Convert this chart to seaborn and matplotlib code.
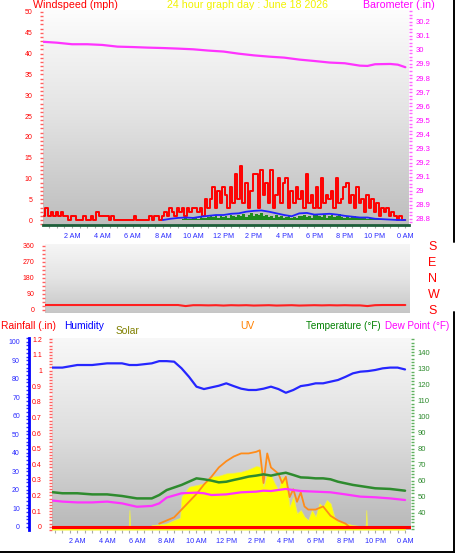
import numpy as np
import seaborn as sns
import matplotlib
matplotlib.use("Agg")
import matplotlib.pyplot as plt
from matplotlib.colors import LinearSegmentedColormap
from matplotlib.lines import Line2D
from matplotlib.ticker import MultipleLocator, FixedLocator, FuncFormatter

sns.set_style("white")
plt.rcParams['font.family'] = ['Liberation Sans', 'DejaVu Sans']

W, H = 455, 554

# ---- wind (10 minute samples) ----
gust_t = np.arange(1, 145) / 6
gust = [1, 3, 1, 2, 1, 2,   1, 2, 1, 1, 0, 1,   1, 0, 0, 0, 1, 0,   0, 1, 0, 2, 1, 1,
        1, 1, 0, 1, 0, 0,   0, 0, 0, 0, 0, 0,   1, 0, 0, 0, 0, 0,   1, 0, 1, 1, 0, 1,
        2, 1, 3, 2, 1, 3,   2, 3, 1, 3, 2, 3,   3, 2, 3, 1, 5, 3,   5, 8, 3, 7, 4, 8,
        6, 3, 8, 4, 11, 5,  13, 4, 9, 3, 7, 11, 11, 3, 12, 6, 9, 4, 12, 3, 6, 10, 4, 9,
        10, 3, 7, 4, 8, 5,  7, 3, 11, 4, 6, 3,  8, 3, 10, 4, 6, 5,  7, 3, 10, 4, 5, 8,
        9, 4, 6, 3, 8, 4,   5, 2, 6, 3, 5, 2,   4, 1, 3, 2, 3, 1,   2, 1, 0, 1, 0, 0]
wind_lull = [0] * 54 + [0, 0.3, 0.5, 0.3, 0.3, 0.5,
             0.5, 0.3, 0.8, 0.5, 0.4, 0.8,  1, 0.8, 1.2, 0.5, 1, 0.8,  1, 0.5, 1.2, 1, 0.8, 1.2,
             1, 1.5, 0.8, 1.2, 1.6, 1,  1.5, 1.2, 1.6, 1, 1.2, 0.8,  1, 0.5, 1.2, 0.8, 1, 0.5,
             0.8, 1, 0.5, 0.8, 0.4, 1,  1, 1.2, 0.8, 1, 0.5, 1.2,  1.5, 1, 0.8, 1.2, 0.5, 1,
             1.2, 0.8, 1, 1.5, 0.8, 0.5,  1, 0.5, 0.8, 1, 0.4, 0.5,  0.5, 0.8, 0.3, 0.5, 0.3, 0.3,
             0.2, 0.3, 0, 0, 0, 0,  0, 0, 0, 0, 0, 0]

wind_t = [8, 8.5, 9, 9.5, 10, 10.5, 11, 11.5, 12, 12.5, 13, 13.5, 14, 14.5, 15, 15.5, 16,
          16.5, 17, 17.5, 18, 18.5, 19, 19.5, 20, 20.5, 21, 21.5, 22, 22.5, 23, 23.5, 24]
wind_avg = [0, 0.3, 0.5, 0.6, 0.5, 0.8, 1.0, 1.2, 1.2, 1.5, 1.6, 2.0, 2.2, 2.3, 2.0, 1.6, 1.2,
            0.9, 1.6, 1.7, 1.3, 1.4, 1.5, 1.3, 1.0, 0.8, 0.6, 0.6, 0.3, 0.2, 0.1, 0, 0]

baro_t = [0, 1, 2, 3, 4, 5, 6, 7, 8, 9, 10, 11, 12, 13, 14, 15, 16, 17, 18, 19, 20, 21,
          21.5, 22, 23, 23.5, 24]
baro = [30.058, 30.051, 30.04, 30.04, 30.035, 30.023, 30.02, 30.016, 30.013, 30.009,
        30.004, 29.995, 29.988, 29.973, 29.961, 29.952, 29.945, 29.931, 29.921, 29.91,
        29.905, 29.888, 29.886, 29.898, 29.9, 29.895, 29.877]

wdir_t = np.arange(0, 24.5, 0.5)
wdir = [28] * 19 + [22, 27, 27, 26, 27, 25, 27, 26, 27, 25, 26, 27, 25, 26, 27, 25, 26,
                    27, 26, 27, 26, 27, 26, 26, 22, 27, 28, 28, 28, 28]

# ---- lower panel ----
hum_t = [0, 1, 2, 3, 4, 5, 5.5, 6, 7, 7.5, 8, 8.5, 9, 9.5, 10, 10.5, 11, 11.5, 12, 12.5,
         13, 13.5, 14, 14.5, 15, 15.5, 16, 16.5, 17, 17.5, 18, 18.5, 19, 19.5, 20, 20.5,
         21, 21.5, 22, 22.5, 23, 23.5, 24]
hum = [86, 86, 87.4, 87.4, 88.3, 88.3, 87.4, 87.4, 88.3, 89.5, 89.5, 89.2, 85.6, 81, 75.7,
       74.4, 75.3, 76.2, 77.5, 76, 74.6, 73.9, 73.9, 74.6, 75.7, 74.4, 72.4, 73.9, 76, 76.6,
       77.5, 77.5, 78.4, 79.3, 81, 82.9, 83.8, 84.1, 84.7, 85.6, 86, 86, 85]

temp_t = [0, 1, 2, 3, 4, 5, 6, 7, 7.5, 8, 9, 10, 10.5, 11, 11.5, 12, 12.5, 13, 13.5, 14,
          14.5, 15, 15.5, 16, 16.5, 17, 17.5, 18, 18.5, 19, 19.5, 20, 20.5, 21, 22, 23, 24]
temp = [53.1, 52.1, 52.1, 51.4, 51.4, 50.4, 48.9, 48.9, 51, 54.1, 57.3, 61.4, 60.8, 60,
        58.9, 59.3, 60.4, 61.4, 62.5, 63.1, 63.9, 63.1, 64.1, 64.9, 63.5, 62, 61.8, 61.4,
        61.4, 60.8, 59.3, 58.3, 57.3, 56.6, 55.2, 54.8, 53.7]

dew_t = [0, 1, 2, 3, 4, 5, 6, 7, 7.5, 8, 9, 10, 10.5, 11, 12, 13, 14, 14.5, 15, 16, 16.5,
         17, 18, 19, 20, 21, 22, 23, 24]
dew = [47.9, 46.9, 46.4, 46.4, 46.9, 45.8, 43.7, 44.2, 45.8, 49.4, 52.1, 52.5, 52.1, 51,
       51.4, 52.7, 53.1, 53.7, 53.5, 54.8, 54.1, 53.5, 53.1, 52.7, 51.4, 50, 49.6, 48.9, 47.9]

uv_t = [7.5, 8, 8.5, 9, 9.5, 10, 10.5, 11, 11.5, 12, 12.5, 13, 13.5, 14, 14.25, 14.5, 14.75,
        15, 15.25, 15.5, 15.75, 16, 16.25, 16.5, 16.75, 17, 17.25, 17.5, 18, 18.5, 19, 19.5,
        20, 20.25]
uv = [0.2, 0.4, 0.6, 1.1, 1.6, 2.1, 2.7, 3.2, 3.8, 4.2, 4.5, 4.7, 4.7, 4.8, 4.9, 2.8, 4.7,
      3.8, 3.6, 3.4, 2.8, 3.2, 1.9, 2.4, 1.6, 2.2, 1.3, 1.1, 1.1, 1.3, 0.7, 0.4, 0.2, 0]

sol_t = [0, 5.45, 5.5, 5.55, 6.9, 7, 7.5, 8, 8.5, 8.9, 9, 9.25, 9.5, 10, 10.5, 11, 11.5, 12,
         12.5, 13, 13.5, 14, 14.25, 14.5, 14.75, 15, 15.25, 15.5, 15.75, 16, 16.25, 16.5,
         16.75, 17, 17.25, 17.5, 17.75, 18, 18.25, 18.5, 18.75, 19, 19.25, 19.5, 20, 20.5,
         21, 21.35, 21.4, 21.45, 21.5, 24]
sol = [0, 0, 225, 0, 0, 22, 31, 45, 90, 120, 405, 472, 540, 562, 585, 675, 688, 720, 729,
       742, 774, 819, 810, 540, 720, 697, 585, 495, 675, 630, 270, 405, 180, 225, 135, 90,
       225, 135, 315, 270, 360, 315, 135, 67, 45, 22, 9, 0, 225, 0, 0, 0]

rain_t = [0, 24.5]
rain = [0, 0]


def box(l, t, r, b):
    return [l / W, 1 - b / H, (r - l) / W, (b - t) / H]


def shade(ax, top, mid, bottom):
    cmap = LinearSegmentedColormap.from_list('bg', [top, mid, bottom])
    grad = np.linspace(0, 1, 256).reshape(-1, 1)
    ax.imshow(grad, cmap=cmap, aspect='auto', extent=[0, 1, 0, 1],
              transform=ax.transAxes, zorder=0)


def hide(ax):
    for s in ax.spines.values():
        s.set_visible(False)


def clock(h, pos=None):
    hh = int(round(h)) % 24
    n = hh % 12
    if hh == 12:
        n = 12
    return f"{n} {'AM' if hh < 12 else 'PM'}"


def time_axis(ax, pad):
    ax.xaxis.set_major_locator(MultipleLocator(2))
    ax.xaxis.set_minor_locator(MultipleLocator(0.5))
    ax.xaxis.set_major_formatter(FuncFormatter(clock))
    ax.tick_params(axis='x', which='both', bottom=True, length=2.5, width=0.8,
                   color='#a8a8a8', labelsize=5.2, labelcolor='#2a2aff', pad=pad)


def ftext(x, y, s, color, size=7.7, **kw):
    fig.text(x / W, 1 - y / H, s, color=color, fontsize=size, va='center', **kw)


fig = plt.figure(figsize=(W / 100, H / 100), dpi=100)

# ---------- panel 1: wind speed / barometer ----------
ax1 = fig.add_axes(box(43, 10, 409, 225))
shade(ax1, '#fdfdfd', '#e2e2e2', '#bdbdbd')
ax1.fill_between(gust_t, 0, wind_lull, step='mid', color='#1e8c1e', lw=0, zorder=2)
sns.lineplot(x=gust_t, y=gust, ax=ax1, color='#ff0000', lw=1.4, drawstyle='steps-mid', zorder=3)
sns.lineplot(x=wind_t, y=wind_avg, ax=ax1, color='#2222ff', lw=1.3, zorder=4)
ax1.set_xlim(0.086, 24.24)
ax1.set_ylim(-1.2, 50.48)
ax1.yaxis.set_major_locator(MultipleLocator(5))
ax1.yaxis.set_minor_locator(MultipleLocator(1))
ax1.tick_params(axis='y', which='both', left=True, length=2.5, width=1, color='#ff6060',
                labelcolor='#ff0000', labelsize=5, pad=5)
time_axis(ax1, 3)
hide(ax1)
ax1.spines['bottom'].set_visible(True)
ax1.spines['bottom'].set_color('#1d5e3a')
ax1.spines['bottom'].set_linewidth(2)

ax1b = ax1.twinx()
sns.lineplot(x=baro_t, y=baro, ax=ax1b, color='#ff33ff', lw=1.6)
ax1b.set_ylim(28.757, 30.283)
ax1b.yaxis.set_major_locator(MultipleLocator(0.1))
ax1b.yaxis.set_minor_locator(MultipleLocator(0.025))
ax1b.yaxis.set_major_formatter(FuncFormatter(lambda v, p: f"{v:g}"))
ax1b.tick_params(axis='y', which='both', right=True, length=2.5, width=1, color='#ff66ff',
                 labelcolor='#ff00ff', labelsize=5.5, pad=2)
hide(ax1b)

# ---------- panel 2: wind direction ----------
ax2 = fig.add_axes(box(45, 244, 410, 313))
shade(ax2, '#f6f6f6', '#e4e4e4', '#c6c6c6')
sns.lineplot(x=wdir_t, y=wdir, ax=ax2, color='#ff2020', lw=1.5)
ax2.set_xlim(0.218, 24.31)
ax2.set_ylim(-16.9, 371)
ax2.yaxis.set_major_locator(FixedLocator([0, 90, 180, 270, 360]))
ax2.yaxis.set_minor_locator(MultipleLocator(22.5))
ax2.tick_params(axis='y', which='both', left=True, length=2.5, width=1, color='#ff6060',
                labelcolor='#ff0000', labelsize=5, pad=5)
ax2.tick_params(axis='x', which='both', bottom=False, labelbottom=False)
hide(ax2)

ax2b = ax2.twinx()
ax2b.set_ylim(-16.9, 371)
ax2b.set_yticks([0, 90, 180, 270, 360], ['S', 'W', 'N', 'E', 'S'])
ax2b.tick_params(axis='y', right=True, length=0, labelcolor='#ff0000', labelsize=9, pad=13)
hide(ax2b)

# ---------- panel 3: rain / humidity / solar / uv / temperature ----------
ax3 = fig.add_axes(box(52, 338, 411, 530))
shade(ax3, '#f8f8f8', '#dedede', '#b8b8b8')
ax3.set_xlim(0.302, 24.4)
ax3.set_ylim(-0.0211, 1.2088)
ax3.yaxis.set_major_locator(MultipleLocator(0.1))
ax3.yaxis.set_minor_locator(MultipleLocator(0.02))
ax3.yaxis.set_major_formatter(FuncFormatter(lambda v, p: f"{v:g}"))
ax3.tick_params(axis='y', which='both', left=True, length=2.5, width=1, color='#ff6060',
                labelcolor='#ff0000', labelsize=5, pad=4.7)
time_axis(ax3, 3.6)
hide(ax3)

ax_sol = ax3.twinx()
ax_sol.fill_between(sol_t, -40, sol, color='#ffff00', edgecolor='#eeee55', lw=0.5)
ax_sol.set_ylim(-44.6, 2547)
ax_sol.set_yticks([])
hide(ax_sol)

ax_uv = ax3.twinx()
sns.lineplot(x=uv_t, y=uv, ax=ax_uv, color='#ff8c1a', lw=1.3)
ax_uv.set_ylim(-0.21, 12.1)
ax_uv.set_yticks([])
hide(ax_uv)

ax_t = ax3.twinx()
sns.lineplot(x=temp_t, y=temp, ax=ax_t, color='#2e8b2e', lw=1.8)
sns.lineplot(x=dew_t, y=dew, ax=ax_t, color='#ff33ff', lw=1.6)
ax_t.set_ylim(29.2, 148.9)
ax_t.yaxis.set_major_locator(FixedLocator(list(range(40, 150, 10))))
ax_t.yaxis.set_minor_locator(MultipleLocator(2))
ax_t.tick_params(axis='y', which='both', right=True, length=2.5, width=1, color='#60b060',
                 labelcolor='#2e8b2e', labelsize=5.5, pad=2.5)
hide(ax_t)

ax_h = ax3.twinx()
sns.lineplot(x=hum_t, y=hum, ax=ax_h, color='#2626ff', lw=1.6)
ax_h.set_ylim(-1.78, 102)
ax_h.yaxis.tick_left()
ax_h.yaxis.set_major_locator(MultipleLocator(10))
ax_h.yaxis.set_minor_locator(MultipleLocator(2))
ax_h.tick_params(axis='y', which='both', left=True, right=False, length=2.5, width=1,
                 color='#3030ff', labelcolor='#2a2aff', labelsize=5, pad=4)
hide(ax_h)
ax_h.spines['left'].set_visible(True)
ax_h.spines['left'].set_position(('outward', 16.6))
ax_h.spines['left'].set_color('#0000ff')
ax_h.spines['left'].set_linewidth(2)

ax_r = ax3.twinx()
sns.lineplot(x=rain_t, y=rain, ax=ax_r, color='#ff0000', lw=2.2)
ax_r.set_ylim(-0.0211, 1.2088)
ax_r.set_yticks([])
hide(ax_r)

for a in [ax1b, ax2b, ax_sol, ax_uv, ax_t, ax_h, ax_r]:
    a.set_ylabel('')

# ---------- headings ----------
ftext(33, 5, 'Windspeed (mph)', '#ff0000')
ftext(248, 5, '24 hour graph day : June 18 2026', '#f2f200', ha='center')
ftext(363, 5, 'Barometer (.in)', '#ff00ff')
ftext(1, 326, 'Rainfall (.in)', '#ff0000', 7.4)
ftext(64, 326, 'Humidity', '#0000ff', 7.4)
ftext(116, 331, 'Solar', '#808000', 7.4)
ftext(240, 326, 'UV', '#ff8000', 7.4)
ftext(306, 326, 'Temperature (°F)', '#008000', 7.1)
ftext(385, 326, 'Dew Point (°F)', '#ff00ff', 7.1)

# frame pieces
for xs, ys in [([453.5, 453.5], [0, 242]), ([453.5, 453.5], [312, 552]),
               ([0, 455], [551.5, 551.5])]:
    fig.add_artist(Line2D([x / W for x in xs], [1 - y / H for y in ys],
                          color='black', lw=1.4))

fig.savefig('out.png', dpi=100)
